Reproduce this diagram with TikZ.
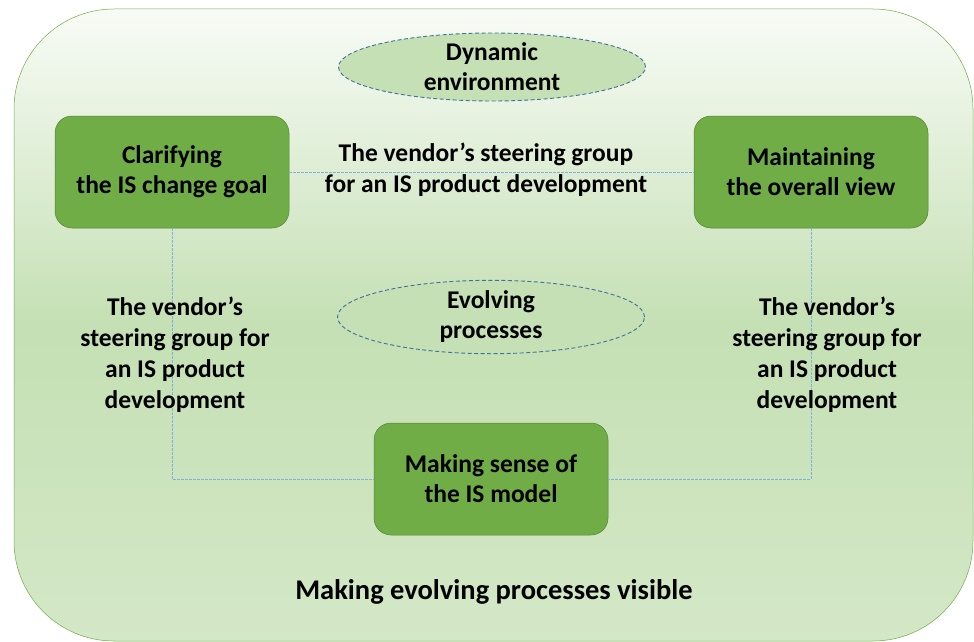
\documentclass[tikz,border=0pt]{standalone}
\usepackage{fontspec}
\setmainfont{Carlito}
\usepackage{tikz}
\usetikzlibrary{shapes, arrows, positioning}
\definecolor{boxgreen}{HTML}{70AD47}
\definecolor{boxedge}{HTML}{548235}
\definecolor{palegreen}{HTML}{C5E0B4}
\definecolor{dashblue}{HTML}{41719C}
\definecolor{linkblue}{HTML}{7FB0DE}

\begin{document}
\begin{tikzpicture}[x=1pt, y=-1pt, semithick, line width =0.5pt,
    task/.style={rounded corners=17pt, draw=boxedge, fill=boxgreen, minimum width=234pt, minimum height=112pt, align=center, font=\fontsize{25.5}{30}\selectfont\bfseries},
    cloud/.style={ellipse, draw=dashblue, dash pattern=on 4pt off 2.5pt, line width=0.9pt, fill=palegreen, minimum width=307pt, minimum height=56pt, inner sep=0pt, align=center, font=\fontsize{25.5}{30}\selectfont\bfseries},
    link/.style={draw=linkblue, dash pattern=on 2.5pt off 1.5pt, line width=1pt},
    caption/.style={align=center, font=\fontsize{25.5}{31}\selectfont\bfseries}]
                            \useasboundingbox (0, 0) rectangle (974, 642);
                            \path [rounded corners=100pt, draw=boxgreen, top color=palegreen!12, bottom color=palegreen!75, middle color=palegreen] (14, 9) rectangle (973, 641);
                            \node [cloud] (dynamic) at (492, 67) {Dynamic\\environment};
                            \node [cloud, minimum height=62pt] (evolving) at (491, 317) {Evolving\\processes};
                            \node [task] (clarify) at (172, 172) {Clarifying\\the IS change goal};
                            \node [task] (maintain) at (811, 172) {Maintaining\\the overall view};
                            \node [task] (sense) at (491, 479) {Making sense of\\the IS model};
                            \path [link] (clarify) -- (maintain);
                            \path [link] (clarify.south) |- (sense.west);
                            \path [link] (maintain.south) |- (sense.east);
                            \node [caption] (vendortop) at (486, 170) {The vendor’s steering group\\for an IS product development};
                            \node [caption] (vendorleft) at (175, 355) {The vendor’s\\steering group for\\an IS product\\development};
                            \node [caption] (vendorright) at (827, 355) {The vendor’s\\steering group for\\an IS product\\development};
                            \node [caption, font=\fontsize{28.5}{30}\selectfont\bfseries] (visible) at (494, 592) {Making evolving processes visible};
                        \end{tikzpicture}
\end{document}
